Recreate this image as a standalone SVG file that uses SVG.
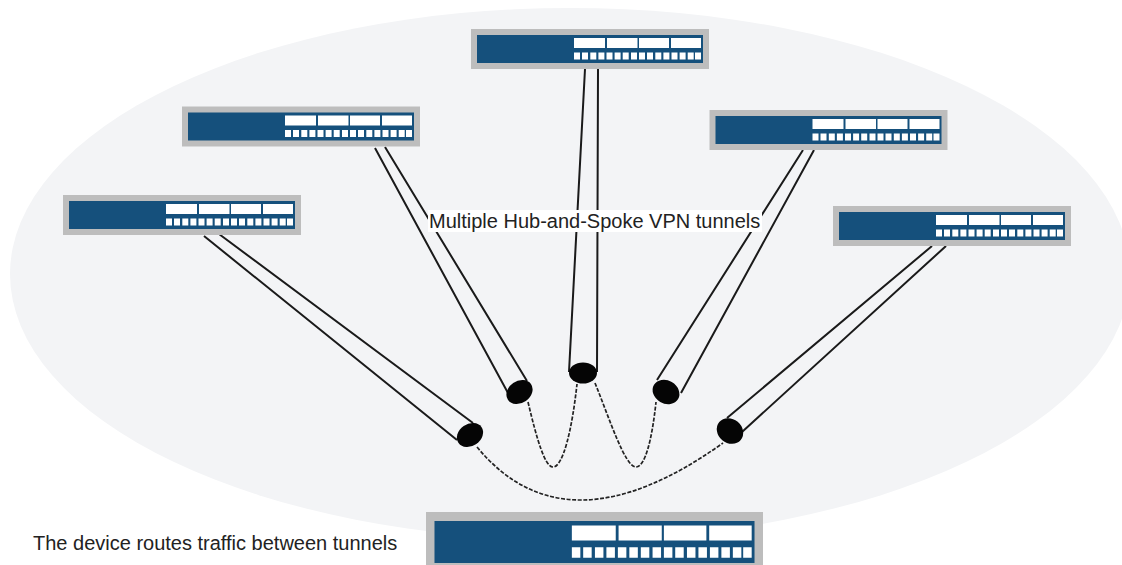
<svg xmlns="http://www.w3.org/2000/svg" width="1122" height="565" viewBox="0 0 1122 565">
<style>
.t{fill:none;stroke:#1a1a1a;stroke-width:2}
.d{fill:none;stroke:#222;stroke-width:1.7;stroke-dasharray:4 1.6}
.e{fill:#050505}
.b{fill:#fff}
text{font-family:"Liberation Sans",Arial,sans-serif;font-size:20px;fill:#222}
</style>
<defs>
<g id="dev">
<rect width="238" height="40" fill="#bdbdbd"/>
<rect x="6" y="6" width="226" height="28" fill="#15507c"/>
<g class="b">
<rect x="103" y="9" width="31" height="10"/><rect x="136" y="9" width="30.500" height="10"/><rect x="168" y="9" width="30" height="10"/><rect x="200" y="9" width="30" height="10"/>
<rect x="103" y="23.500" width="6" height="7"/><rect x="111" y="23.500" width="6" height="7"/><rect x="119.300" y="23.500" width="6" height="7"/><rect x="127.400" y="23.500" width="6" height="7"/><rect x="135.500" y="23.500" width="6" height="7"/><rect x="143.600" y="23.500" width="6" height="7"/><rect x="151.700" y="23.500" width="6" height="7"/><rect x="160" y="23.500" width="6" height="7"/><rect x="168" y="23.500" width="6" height="7"/><rect x="176" y="23.500" width="6" height="7"/><rect x="184.300" y="23.500" width="6" height="7"/><rect x="192.400" y="23.500" width="6" height="7"/><rect x="200.500" y="23.500" width="6" height="7"/><rect x="208.600" y="23.500" width="6" height="7"/><rect x="216.700" y="23.500" width="6" height="7"/><rect x="224" y="23.500" width="6" height="7"/>
</g>
</g>
</defs>
<rect width="1122" height="565" fill="#fff"/>
<ellipse id="cloud" cx="570" cy="274" rx="560" ry="266" fill="#f3f4f6"/>
<g id="connectors">
<path class="t" d="M204 236L457 440M219 234L473 423"/>
<path class="t" d="M375 148L508 393M385 147L527 381"/>
<path class="t" d="M585 69L569 372M598 69L597 372"/>
<path class="t" d="M803 150L657 380M814 150L681 393"/>
<path class="t" d="M932 246L727 418M946 246L742 432"/>
<path class="d" d="M477 447Q566 555 723 443"/>
<path class="d" d="M528 402C537 440 545 467 553 467C563 467 572 430 577 384"/>
<path class="d" d="M595 383C610 420 625 467 636 467C645 467 652 440 656 402"/>
<ellipse class="e" cx="470" cy="435" rx="14" ry="11" transform="rotate(-35 470 435)"/>
<ellipse class="e" cx="519.500" cy="392" rx="14" ry="11" transform="rotate(-35 519.500 392)"/>
<ellipse class="e" cx="583" cy="373" rx="14" ry="10.500"/>
<ellipse class="e" cx="666" cy="392" rx="14" ry="11.500" transform="rotate(30 666 392)"/>
<ellipse class="e" cx="730" cy="431" rx="14" ry="12" transform="rotate(40 730 431)"/>
</g>
<use id="spoke1" href="#dev" x="63" y="195"/>
<use id="spoke2" href="#dev" x="182" y="106.500"/>
<use id="spoke3" href="#dev" x="471" y="29"/>
<use id="spoke4" href="#dev" x="709.500" y="110"/>
<use id="spoke5" href="#dev" x="833" y="206"/>
<use id="hub" href="#dev" transform="translate(426 512) scale(1.416 1.5)"/>
<rect x="428" y="210" width="334" height="22" fill="#fff"/>
<text x="429" y="228">Multiple Hub-and-Spoke VPN tunnels</text>
<text x="33" y="550">The device routes traffic between tunnels</text>
</svg>
